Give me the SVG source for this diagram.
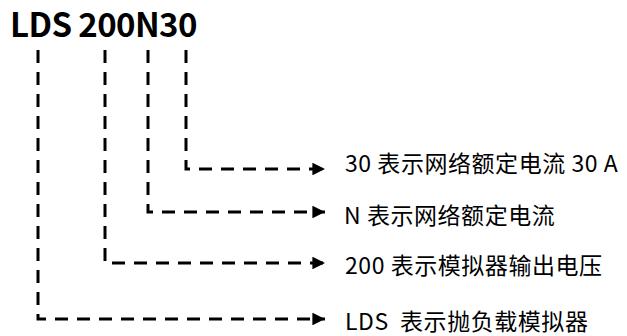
<svg xmlns="http://www.w3.org/2000/svg" width="627" height="336" viewBox="0 0 627 336">
<style>
.t{font-family:"Noto Sans CJK SC","Noto Sans",sans-serif;fill:#000}
.title{font-size:33px;font-weight:700;letter-spacing:-0.6px}
.lbl{font-size:23px;letter-spacing:0.55px}
.c{fill:none;stroke:#000;stroke-width:3;stroke-dasharray:13 9}
</style>
<defs>
<marker id="ah" viewBox="0 0 10 10" refX="10" refY="5" markerWidth="5" markerHeight="4.2" markerUnits="strokeWidth" orient="auto">
<path d="M0,0 L10,5 L0,10 Z" fill="#000"/>
</marker>
</defs>
<rect width="627" height="336" fill="#fff"/>
<g id="title"><text class="t title" x="10" y="37">LDS 200N30</text></g>
<g id="connectors">
<path class="c" d="M186,50 V169 H325" marker-end="url(#ah)"/>
<path class="c" d="M148,50 V212 H325" marker-end="url(#ah)"/>
<path class="c" d="M105,50 V263 H325" marker-end="url(#ah)"/>
<path class="c" d="M38,50 V319 H325" marker-end="url(#ah)"/>
</g>
<g id="label1"><text class="t lbl" x="345" y="172">30 表示网络额定电流 30 A</text></g>
<g id="label2"><text class="t lbl" x="344" y="224">N 表示网络额定电流</text></g>
<g id="label3"><text class="t lbl" x="345" y="274">200 表示模拟器输出电压</text></g>
<g id="label4"><text class="t lbl" x="345" y="330" xml:space="preserve">LDS  表示抛负载模拟器</text></g>
</svg>
